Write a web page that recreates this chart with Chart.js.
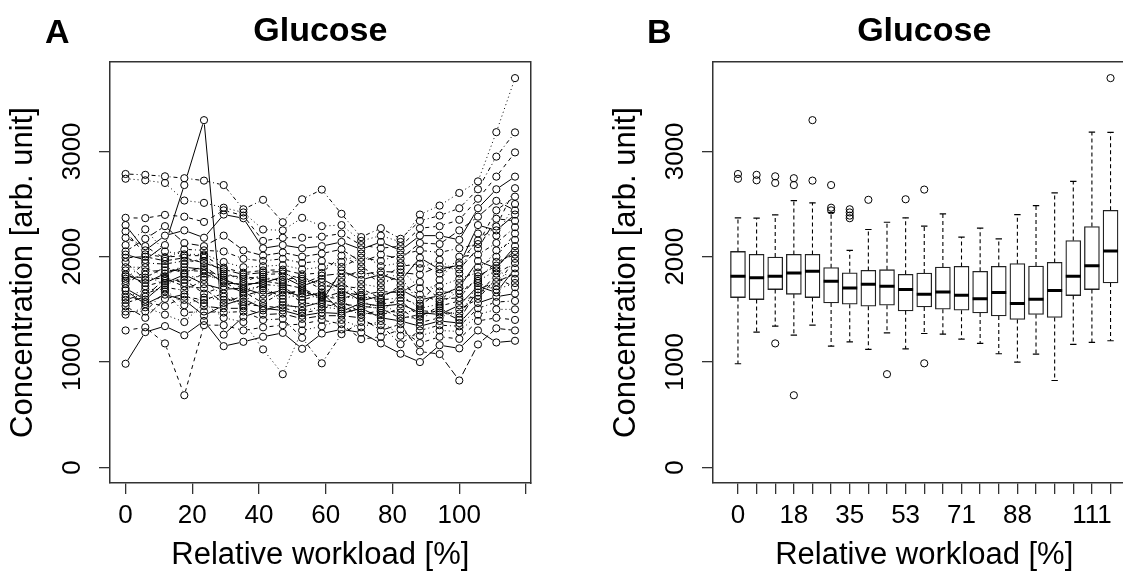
<!DOCTYPE html>
<html>
<head>
<meta charset="utf-8">
<script src="https://cdn.jsdelivr.net/npm/chart.js@4.4.1/dist/chart.umd.min.js"></script>
<style>
  html, body { margin: 0; padding: 0; background: #fff; overflow: hidden; }
  body { width: 1123px; height: 571px; position: relative; font-family: 'Liberation Sans', Arial, sans-serif; }
  canvas { position: absolute; top: 0; }
  .tag { position: absolute; z-index: 2; font-weight: bold; font-size: 34px; line-height: 34px; color: #000; }
</style>
</head>
<body>
<div class="tag" style="left:45px; top:14px;">A</div>
<div class="tag" style="left:647px; top:14px;">B</div>
<canvas id="chartA" style="left:0; width:560px; height:571px;" width="560" height="571"></canvas>
<canvas id="chartB" style="left:603px; width:560px; height:571px;" width="560" height="571"></canvas>
<script>
// workload levels [%], shared by both panels
const workload = [0, 5.9, 11.8, 17.6, 23.5, 29.4, 35.3, 41.2, 47.1, 52.9, 58.8, 64.7, 70.6, 76.5, 82.4, 88.2, 94.1, 100, 105.6, 111.1, 116.7];

const yTicks = [0, 1000, 2000, 3000];
const xTicksA = [0, 20, 40, 60, 80, 100, 120];
const xLabelsA = ['0', '20', '40', '60', '80', '100', ''];
const xLabelsB = ['0', '', '', '18', '', '', '35', '', '', '53', '', '', '71', '', '', '88', '', '', '', '111', ''];

// panel A: one row per workload level, one value per subject (same subject order in every row)
const panelA = [
  [984,1300,1450,1480,1530,1680,1640,1612,1590,1560,1700,1870,1770,1950,1814,1830,1740,1900,1790,1990,2020,2240,2110,2180,2050,2300,2369,2740,2785],
  [1284,1330,1520,1480,1420,1550,1570,1690,1650,1620,1593,1720,1830,1780,1801,1750,1860,1900,1940,2000,1970,2022,2260,2100,2170,2060,2366,2725,2777],
  [1341,1177,1450,1670,1600,1640,1530,1688,1710,1790,1750,1770,1730,1800,1900,1840,1870,1814,1930,1960,2110,1996,2050,1980,2290,2200,2397,2700,2763],
  [1255,685,1380,1470,1643,1590,1620,1540,1680,1720,1830,1780,1810,1750,1845,1900,1870,1930,1960,1990,2680,2010,2022,2070,2130,2250,2380,2533,2745],
  [1390,1350,1560,1480,1530,1440,1590,1612,1780,1700,1740,1650,1810,1840,1910,1880,1861,1990,1960,1940,3296,2010,2022,2060,2100,2180,2330,2511,2722],
  [1151,1350,1420,1470,1510,1540,1650,1590,1620,1561,1690,1720,1800,1766,1780,1750,1820,1840,1860,1880,1260,1896,1950,2050,2200,2400,2440,2465,2680],
  [1192,1300,1380,1480,1510,1600,1549,1570,1530,1630,1703,1670,1690,1650,1720,1740,1810,1790,1760,1830,1430,1848,1900,1980,2060,2365,2390,2420,2450],
  [1240,1330,1120,1400,1450,1510,1530,1700,1600,1680,1640,1560,1720,1738,1770,1750,1790,1810,1830,1850,1490,1870,1910,1960,2010,2080,2150,2258,2540],
  [1277,1350,885,1410,1460,1490,1515,1570,1700,1630,1680,1660,1600,1719,1740,1810,1780,1760,1840,1860,1539,1877,1920,1980,2040,2110,2180,2250,2327],
  [1126,1360,1300,1230,1410,1440,1465,1486,1560,1688,1620,1670,1650,1590,1700,1720,1810,1770,1790,1740,1520,1833,1880,1940,2000,2080,2180,2369,2545],
  [1271,1400,1340,988,1440,1470,1500,1523,1550,1590,1660,1620,1630,1643,1610,1790,1720,1760,1690,1820,1570,1845,1900,1960,2030,2100,2190,2290,2637],
  [1310,1360,1400,1265,1440,1460,1580,1501,1520,1550,1480,1600,1620,1760,1665,1690,1720,1640,1800,1840,1870,2010,1950,1902,2070,2140,2220,2300,2407],
  [1280,1218,1330,1380,1420,1510,1470,1492,1450,1530,1560,1660,1600,1620,1634,1580,1700,1740,1870,1830,1780,1908,2030,1990,1950,2070,2110,2150,2186],
  [1177,1240,1390,1350,1300,1420,1445,1570,1490,1510,1530,1550,1466,1590,1670,1630,1602,1710,1750,1861,1830,1790,1910,1960,2020,2140,2080,2200,2271],
  [1079,1310,1250,1170,1360,1390,1510,1438,1470,1415,1550,1580,1640,1610,1659,1690,1730,1880,1810,1850,1770,1908,1940,2020,1980,2060,2100,2140,2170],
  [1000,1180,1250,1300,1100,1340,1375,1404,1490,1450,1470,1430,1510,1535,1760,1590,1640,1700,1555,1830,1990,1934,1890,2060,2130,2200,2270,2400,2340],
  [1160,1240,1300,1350,1076,1390,1420,1510,1470,1490,1451,1530,1550,1670,1596,1630,1575,1720,1780,1912,1880,1840,1970,2040,2120,2200,2290,2485,2390],
  [1130,1220,1290,1340,825,1370,1500,1423,1460,1400,1540,1580,1678,1650,1610,1710,1750,1790,2000,1880,1920,1946,1840,2080,2250,2160,2350,2605,2460],
  [1300,1390,1450,1510,1167,1560,1600,1750,1660,1690,1720,1631,1770,1790,1814,1960,1900,1850,2020,2080,2300,2154,2220,2120,2380,2460,2550,2715,2640],
  [1186,1420,1500,1570,1320,1620,1800,1688,1720,1760,1660,1840,1870,1950,1915,1890,2000,2060,2130,2360,2250,2287,2200,2440,2530,2640,2760,3182,2950],
  [1202,1400,1500,1580,1300,1650,1710,1750,1980,1840,1890,1940,1790,2020,2055,2100,2220,2160,2280,2340,2400,2650,2500,2570,2440,2760,2990,3695,3180]
];

// panel B: box statistics per workload level
const boxLow  = [984,1284,1341,1255,1350,1151,1192,1120,1277,1126,1271,1265,1218,1177,1079,1000,1076,825,1167,1186,1202];
const boxQ1   = [1612,1593,1688,1643,1612,1561,1549,1530,1539,1486,1523,1501,1492,1466,1438,1404,1451,1423,1631,1688,1750];
const boxMed  = [1814,1801,1814,1845,1861,1766,1703,1738,1719,1688,1643,1665,1634,1602,1659,1555,1596,1678,1814,1915,2055];
const boxQ3   = [2050,2022,1996,2022,2022,1896,1848,1870,1877,1833,1845,1902,1908,1861,1908,1934,1912,1946,2154,2287,2440];
const boxHigh = [2369,2366,2397,2533,2511,2418,2060,2258,2327,2369,2290,2407,2186,2271,2170,2400,2485,2605,2715,3182,3180];
const boxOutliers = [
  [2785,2740], [2777,2725], [2763,2700,1177], [2745,2680,685], [3296,2722], [2680,2465,2440],
  [2450,2420,2390,2365], [2540], [885], [2545], [2637,988], [], [], [], [], [], [], [], [], [], [3695]
];

const font = "'Liberation Sans', Arial, sans-serif";
const frame = '#333';
const dashes = [[], [4, 4], [1, 3], [1, 3, 4, 3], [7, 3]];

Chart.defaults.font.family = font;
Chart.defaults.color = '#000';

function yScale() {
  return {
    type: 'linear', min: -148, max: 3848,
    afterBuildTicks: s => { s.ticks = yTicks.map(v => ({ value: v })); },
    afterFit: s => { s.width = 110; },
    grid: { drawOnChartArea: false, tickLength: 11, color: frame, lineWidth: 1.3 },
    border: { color: frame, width: 1.5 },
    ticks: {
      autoSkip: false, minRotation: 90, maxRotation: 90, crossAlign: 'center', padding: -3,
      font: { size: 26 }, callback: v => String(v)
    },
    title: { display: true, text: 'Concentration [arb. unit]', font: { size: 31, lineHeight: 1 }, padding: { top: 7.5, bottom: 0 } }
  };
}

function xScale(min, max, ticks, labels) {
  return {
    type: 'linear', min: min, max: max, offset: false,
    afterBuildTicks: s => { s.ticks = ticks.map(v => ({ value: v })); },
    afterFit: s => { s.height = 88; },
    grid: { drawOnChartArea: false, tickLength: 11, color: frame, lineWidth: 1.3, offset: false },
    border: { color: frame, width: 1.5 },
    ticks: { autoSkip: false, minRotation: 0, maxRotation: 0, padding: 6, font: { size: 26 }, callback: (v, i) => labels[i] },
    title: { display: true, text: 'Relative workload [%]', font: { size: 31, lineHeight: 1 }, padding: { top: 0, bottom: 0 } }
  };
}

// top and right edges of the box around the plot
const edgeTop = { type: 'linear', position: 'top', afterFit: s => { s.height = 0; }, grid: { display: false }, ticks: { display: false }, border: { color: frame, width: 1.5 } };
const edgeRight = { type: 'linear', position: 'right', afterFit: s => { s.width = 0; }, grid: { display: false }, ticks: { display: false }, border: { color: frame, width: 1.5 } };

function commonOptions(padRight) {
  return {
    responsive: false,
    animation: false,
    events: [],
    layout: { padding: { left: 0, top: 0, right: padRight, bottom: 0 } },
    plugins: {
      legend: { display: false },
      tooltip: { enabled: false },
      title: {
        display: true, text: 'Glucose', fullSize: false,
        font: { size: 34, weight: 'bold', lineHeight: 1 }, padding: { top: 15, bottom: 13 }
      }
    }
  };
}

// ---- panel A: individual courses ----
const dsA = [];
const allPoints = [];
for (let s = 0; s < panelA[0].length; s++) {
  const pts = workload.map((w, c) => ({ x: w, y: panelA[c][s] }));
  allPoints.push(...pts);
  dsA.push({
    type: 'scatter', data: pts, showLine: true, borderColor: '#000', borderWidth: 1,
    borderDash: dashes[s % dashes.length], pointRadius: 0, xAxisID: 'x', yAxisID: 'y', order: 2
  });
}
// white discs cut the lines around each point, then the open circles on top
dsA.push({ type: 'scatter', data: allPoints, pointRadius: 4.3, pointBackgroundColor: '#fff', pointBorderWidth: 0, xAxisID: 'x', yAxisID: 'y', order: 1 });
dsA.push({ type: 'scatter', data: allPoints, pointRadius: 3.6, pointBackgroundColor: 'rgba(0,0,0,0)', pointBorderColor: '#000', pointBorderWidth: 1, xAxisID: 'x', yAxisID: 'y', order: 0 });

const optA = commonOptions(29.3);
optA.scales = { x: xScale(-4.67, 121.4, xTicksA, xLabelsA), y: yScale(), xTop: edgeTop, yRight: edgeRight };
new Chart(document.getElementById('chartA'), { type: 'scatter', data: { datasets: dsA }, options: optA });

// ---- panel B: boxplots ----
const boxPos = boxMed.map((_, i) => i + 1);
const boxes = boxPos.map((p, i) => ({ x: p, y: [boxQ1[i], boxQ3[i]] }));
const medians = boxPos.map((p, i) => ({ x: p, y: boxMed[i] }));
const whiskers = [];
const caps = [];
const outliers = [];
boxPos.forEach((p, i) => {
  whiskers.push({ x: p, y: boxQ3[i] }, { x: p, y: boxHigh[i] }, { x: p, y: null },
                { x: p, y: boxQ1[i] }, { x: p, y: boxLow[i] }, { x: p, y: null });
  caps.push({ x: p, y: boxHigh[i] }, { x: p, y: boxLow[i] });
  boxOutliers[i].forEach(v => outliers.push({ x: p, y: v }));
});

const dsB = [
  { type: 'scatter', data: outliers, pointRadius: 3.6, pointBackgroundColor: 'rgba(0,0,0,0)', pointBorderColor: '#000', pointBorderWidth: 1, xAxisID: 'x', yAxisID: 'y', order: 0 },
  { type: 'scatter', data: medians, pointStyle: 'line', pointRadius: 7.5, pointBorderColor: '#000', pointBorderWidth: 3, xAxisID: 'x', yAxisID: 'y', order: 0 },
  { type: 'scatter', data: caps, pointStyle: 'line', pointRadius: 3.2, pointBorderColor: '#000', pointBorderWidth: 1.2, xAxisID: 'x', yAxisID: 'y', order: 1 },
  { type: 'scatter', data: whiskers, showLine: true, spanGaps: false, borderColor: '#000', borderWidth: 1.1, borderDash: [4, 3], pointRadius: 0, xAxisID: 'x', yAxisID: 'y', order: 2 },
  { type: 'bar', data: boxes, barThickness: 15, backgroundColor: '#fff', borderColor: '#222', borderWidth: 1.3, borderSkipped: false, xAxisID: 'x', yAxisID: 'y', order: 3 }
];

const optB = commonOptions(27.5);
optB.scales = { x: xScale(-0.34, 22.34, boxPos, xLabelsB), y: yScale(), xTop: edgeTop, yRight: edgeRight };
new Chart(document.getElementById('chartB'), { type: 'bar', data: { datasets: dsB }, options: optB });
</script>
</body>
</html>
